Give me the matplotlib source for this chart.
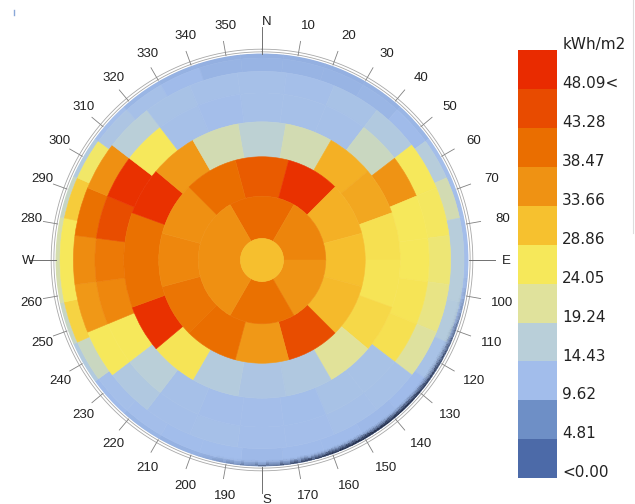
# import de librairies
import numpy as np
import matplotlib.pyplot as plt
from matplotlib.colors import LinearSegmentedColormap, Normalize
from matplotlib import transforms
from matplotlib.lines import Line2D

# legende
legend_labels = ['<0.00', '4.81', '9.62', '14.43', '19.24', '24.05',
                 '28.86', '33.66', '38.47', '43.28', '48.09<']
legend_colors = ['#4c6aa8', '#6e8fc6', '#a2bdeb', '#b9cfd9', '#e0e29c', '#f6e85a',
                 '#f6c12f', '#ef9213', '#ea6e00', '#e84b00', '#e92b00']
unit = 'kWh/m2'
vmin, vmax = 0.0, 48.09

# bandes d'altitude (degres) de la voute celeste, du bas vers le zenith
alt_edges = [0, 12, 24, 36, 48, 60, 72, 84, 90]

# rayonnement par zone, azimut depuis le nord (sens horaire)
row0 = [8.3, 8.3, 8.3, 8.5, 9, 10, 10, 10, 10, 10, 9.8, 9, 8.5, 8.5, 8.5,
        8.5, 8.5, 8.5, 9, 9.5, 13, 16, 18, 18, 16, 13, 10, 9, 8.5, 8.3]
row1 = [8.8, 8.8, 8.8, 9, 9.5, 14, 17.5, 14, 14, 13.5, 11, 9.5, 9.3, 9.5, 9.5,
        9.3, 9.6, 9.6, 10, 10.2, 16.5, 26.5, 24, 24, 27.5, 23, 12, 10.5, 9.5, 8.8]
row2 = [10.5, 10.3, 11, 12.8, 24, 23.5, 22, 21, 19, 10.8, 10.5, 10,
        10, 10.5, 10.2, 12.5, 24, 33, 34.5, 38, 34, 14.5, 11, 10.5]
row3 = [10.5, 10.5, 10.5, 16.5, 33.5, 24, 24, 24.5, 25, 11, 11, 9.8,
        10, 10, 10.5, 14.5, 24, 35, 37, 43, 47, 24, 10.5, 10]
row4 = [15, 17.5, 30.5, 31.5, 25, 24.5, 26, 19.5, 12.5,
        12, 13.5, 24.5, 47, 38, 38, 47, 33, 17.5]
row5 = [41, 47, 30.5, 29, 29.5, 43, 33, 38.5, 37.5, 35, 34, 38.5]
row6 = [39, 35.5, 33.5, 38, 34, 34]
cap = [29]
rows = [row0, row1, row2, row3, row4, row5, row6, cap]

cmap = LinearSegmentedColormap.from_list('rad', legend_colors)
norm = Normalize(vmin, vmax)

W, H = 635, 504
cx, cy, R = 262, 260, 206.5

fig = plt.figure(figsize=(W/100, H/100), dpi=100)
ax = fig.add_axes([(cx-R)/W, (H-cy-R)/H, 2*R/W, 2*R/H], projection='polar')
ax.set_theta_zero_location('N')
ax.set_theta_direction(-1)

# projection orthographique : r = cos(altitude)
for k, vals in enumerate(rows):
    n = len(vals)
    dth = 2*np.pi/n
    th = np.arange(n)*dth
    r_in = np.cos(np.radians(alt_edges[k+1]))
    r_out = np.cos(np.radians(alt_edges[k]))
    if k == len(rows)-1:
        r_in = 0.0
    cols = cmap(norm(np.array(vals)))
    ax.bar(th, r_out-r_in, width=dth, bottom=r_in, color=cols,
           edgecolor=cols, linewidth=0.4, align='center')

# ombre sur le bord sud-est
shade = LinearSegmentedColormap.from_list('shade', [(0.12, 0.16, 0.27, 0.0), (0.12, 0.16, 0.27, 1.0)])
th_s = np.radians(np.linspace(92, 200, 109))
r_s = np.linspace(0.962, 1.0, 9)
tc = np.degrees(0.5*(th_s[1:]+th_s[:-1]))
rc = 0.5*(r_s[1:]+r_s[:-1])
A = 0.9*np.sin(np.pi*(tc-92)/108)**1.4
C = np.outer(((rc-0.962)/0.038)**2.2, A)
ax.pcolormesh(th_s, r_s, C, cmap=shade, vmin=0, vmax=1, shading='flat')

# boussole
th_c = np.linspace(0, 2*np.pi, 721)
for rr in (1.008, 1.021):
    ax.plot(th_c, np.full_like(th_c, rr), color='#a8a8a8', lw=0.6, clip_on=False)

off = transforms.offset_copy(ax.transData, fig=fig, x=5, y=-1, units='dots')
cardinal = {0: 'N', 90: 'E', 180: 'S', 270: 'W'}
for a in range(0, 360, 10):
    t = np.radians(a)
    if a in cardinal:
        ax.plot([t, t], [1.0, 1.13], color='#707070', lw=0.7, clip_on=False)
        s = cardinal[a]
    else:
        ax.plot([t, t], [1.005, 1.075], color='#808080', lw=0.6, clip_on=False)
        s = str(a)
    ax.text(t, 1.158, s, transform=off, ha='center', va='center',
            fontsize=9.5, family='Liberation Sans', color='#222222', clip_on=False)

ax.set_ylim(0, 1)
ax.axis('off')

# barre de couleurs
cax = fig.add_axes([518/W, (H-478.3)/H, 38.5/W, 428.3/H])
n = len(legend_colors)
cax.bar(np.zeros(n), np.ones(n), width=1, bottom=np.arange(n), color=legend_colors, linewidth=0)
cax.set_xlim(-0.5, 0.5)
cax.set_ylim(0, n)
cax.axis('off')
tr = cax.get_yaxis_transform()
for i, lab in enumerate(legend_labels):
    cax.text(1.15, i+0.14, lab, transform=tr, ha='left', va='center',
             fontsize=11, family='DejaVu Sans', color='#222222')
cax.text(1.15, n+0.13, unit, transform=tr, ha='left', va='center',
         fontsize=11, family='DejaVu Sans', color='#222222', clip_on=False)

# petits traits en marge
fig.add_artist(Line2D([14/W, 14/W], [1-10/H, 1-15/H], color='#8aa8d8', lw=1))
fig.add_artist(Line2D([633/W, 633/W], [1.0, 1-233/H], color='#dddddd', lw=0.8))

fig.savefig('out.png', dpi=100)
